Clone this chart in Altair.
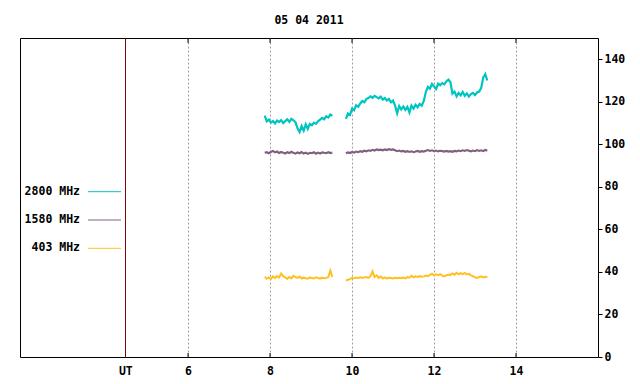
import altair as alt
import pandas as pd

TITLE = "05 04 2011"
SERIES = ["2800 MHz", "1580 MHz", "403 MHz"]
COLORS = ["#00C4C0", "#7F5F7F", "#FFC020"]
SEG_STARTS = [7.87, 9.85]
STEP = 0.05
X_TICKS = [6, 8, 10, 12, 14]
UT_POS = 4.47
Y_TICKS = [0, 20, 40, 60, 80, 100, 120, 140]

cyan_seg1 = [113.5, 110.8, 111.6, 110.2, 111.0, 109.8, 111.2, 110.5, 111.4, 110.0,
             110.9, 111.8, 110.6, 112.0, 111.3, 110.4, 107.5, 105.8, 108.6, 106.4,
             109.4, 107.2, 109.6, 109.0, 110.2, 109.6, 110.8, 111.6, 112.4, 111.8,
             113.2, 112.6, 114.0, 113.4]
cyan_seg2 = [112.0, 114.5, 113.8, 116.8, 116.0, 118.4, 117.6, 119.2, 120.4, 119.8,
             121.3, 121.8, 122.6, 121.9, 122.8, 122.2, 121.6, 122.4, 121.0, 121.8,
             120.6, 121.4, 119.8, 120.6, 118.2, 114.6, 118.0, 116.4, 117.8, 116.2,
             117.6, 115.0, 118.2, 116.8, 118.6, 117.4, 119.0, 118.2, 120.4, 124.6,
             127.0, 126.2, 128.4, 127.2, 126.0, 128.6, 127.8, 128.8, 128.2, 129.6,
             130.4, 129.2, 123.8, 124.8, 122.6, 124.2, 123.0, 124.6, 122.8, 124.0,
             122.4, 123.6, 124.2, 123.2, 124.4, 124.8, 126.4, 131.4, 133.0, 130.0]

purple_seg1 = [96.0, 96.3, 95.8, 96.4, 96.9, 96.2, 96.6, 95.9, 96.4, 96.1,
               95.7, 96.3, 95.9, 96.5, 96.0, 95.6, 96.2, 95.8, 96.4, 95.7,
               96.1, 95.5, 96.0, 95.8, 96.3, 95.6, 96.1, 95.7, 96.2, 96.0,
               95.8, 96.3, 95.9, 96.2]
purple_seg2 = [95.8, 96.2, 95.9, 96.4, 96.1, 96.6, 96.3, 96.8, 96.5, 97.0,
               96.7, 97.2, 96.9, 97.4, 97.1, 97.6, 97.3, 97.5, 97.2, 97.6,
               97.3, 97.7, 97.4, 97.6, 97.2, 96.8, 97.1, 96.7, 96.9, 96.5,
               96.8, 96.4, 96.7, 96.3, 96.6, 96.9, 96.5, 96.8, 96.6, 97.0,
               97.3, 96.9, 97.2, 96.8, 97.1, 96.7, 97.0, 96.8, 96.6, 96.9,
               96.6, 96.8, 96.5, 96.9, 96.7, 97.1, 96.8, 97.2, 96.9, 97.3,
               97.0, 96.7, 97.1, 96.8, 97.3, 96.9, 97.2, 96.8, 97.4, 97.0]

yellow_seg1 = [37.8, 36.8, 37.4, 36.6, 37.9, 37.2, 38.0, 37.4, 39.2, 38.0,
               37.4, 36.8, 37.6, 37.0, 38.2, 37.6, 37.2, 37.8, 36.9, 37.3,
               37.0, 36.8, 37.4, 37.1, 36.9, 37.5, 37.2, 36.8, 37.3, 37.0,
               37.2, 37.5, 40.6, 37.6]
yellow_seg2 = [36.0, 36.3, 36.6, 37.2, 37.0, 37.4, 37.2, 37.5, 37.3, 37.4,
               37.6, 37.2, 38.0, 40.2, 37.6, 38.4, 37.2, 37.8, 36.9, 37.4,
               37.0, 37.3, 37.1, 36.9, 37.2, 37.0, 37.3, 37.1, 37.4, 37.0,
               37.6, 37.3, 38.2, 37.5, 37.9, 37.6, 38.0, 37.7, 37.9, 38.3,
               38.0, 38.6, 39.2, 38.4, 38.9, 38.5, 39.0, 38.3, 37.9, 38.4,
               38.8, 38.5, 39.3, 38.7, 39.6, 38.9, 39.4, 39.0, 39.5, 38.8,
               39.1, 38.4, 38.0, 37.5, 37.2, 37.6, 37.9, 37.4, 37.7, 37.5]

series_data = {
    "2800 MHz": [cyan_seg1, cyan_seg2],
    "1580 MHz": [purple_seg1, purple_seg2],
    "403 MHz": [yellow_seg1, yellow_seg2],
}

rows = []
for name, segs in series_data.items():
    for seg_id, (start, vals) in enumerate(zip(SEG_STARTS, segs)):
        for i, v in enumerate(vals):
            rows.append({"hour": round(start + i * STEP, 3), "value": v,
                         "series": name, "seg": seg_id})
df = pd.DataFrame(rows)
ticks_df = pd.DataFrame({"hour": X_TICKS})
legend_df = pd.DataFrame({"series": SERIES})

W, H = 578, 319
FONT = "DejaVu Sans Mono"
xscale = alt.Scale(domain=[1.9, 16], nice=False, zero=False)
yscale = alt.Scale(domain=[0, 150], nice=False)
color = alt.Color("series:N", scale=alt.Scale(domain=SERIES, range=COLORS), legend=None)

x_axis = alt.Axis(
    values=[UT_POS] + X_TICKS, title=None, ticks=False, domain=False,
    labelExpr="datum.value < 5 ? 'UT' : format(datum.value, 'd')",
    grid=True,
    gridColor={"condition": {"test": "datum.value < 5", "value": "#7a0a0a"}, "value": "#a0a0a0"},
    gridDash={"condition": {"test": "datum.value < 5", "value": []}, "value": [2, 2]},
    gridWidth=1, labelPadding=8)
x_enc = alt.X("hour:Q", scale=xscale, axis=x_axis)

lines = alt.Chart(df).mark_line().encode(
    x=x_enc,
    y=alt.Y("value:Q", scale=yscale, axis=alt.Axis(
        orient="right", values=Y_TICKS, title=None, grid=False, domain=False,
        tickSize=4, tickColor="black", labelPadding=2)),
    color=color,
    strokeWidth=alt.StrokeWidth("series:N", scale=alt.Scale(domain=SERIES, range=[2.2, 2.0, 1.2]),
                                legend=None),
    detail="seg:N",
)

top_ticks = alt.Chart(ticks_df).mark_rule(color="black", strokeWidth=1).encode(
    x=x_enc, y=alt.value(0), y2=alt.value(5))
bottom_ticks = alt.Chart(ticks_df).mark_rule(color="black", strokeWidth=1).encode(
    x=x_enc, y=alt.value(H - 4), y2=alt.value(H))

leg_y = alt.Y("series:N", scale=alt.Scale(type="point", domain=SERIES,
                                           range=[153.7, 210.3], padding=0),
              axis=None)
leg_text = alt.Chart(legend_df).mark_text(
    align="right", baseline="middle", font=FONT, fontSize=11.5,
    fontWeight="bold", color="black").encode(
    x=alt.value(60), y=leg_y, text="series:N")
leg_line = alt.Chart(legend_df).mark_rule(strokeWidth=1).encode(
    x=alt.value(68), x2=alt.value(101), y=leg_y, color=color)
legend = alt.layer(leg_text, leg_line)

chart = alt.layer(lines, top_ticks, bottom_ticks, legend).resolve_scale(
    y="independent"
).properties(
    width=W, height=H,
    title=alt.Title(TITLE, anchor="middle", frame="group", offset=2,
                    baseline="alphabetic", font=FONT, fontSize=11.5,
                    fontWeight="bold", color="black"),
    autosize=alt.AutoSizeParams(type="none"),
    padding={"left": 12, "top": 30, "right": 34, "bottom": 19},
    background="white",
).configure_view(stroke="black", strokeWidth=1).configure_axis(
    labelFont=FONT, labelFontSize=11.5, labelFontWeight="bold", labelColor="black")

chart.save("out.html", embed_options={"renderer": "svg", "actions": False})
